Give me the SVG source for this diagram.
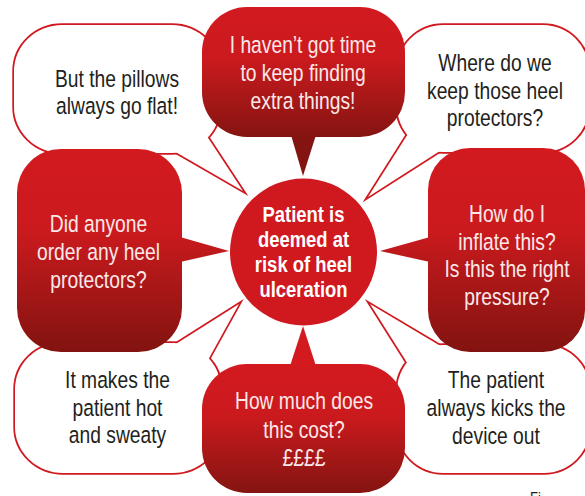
<svg xmlns="http://www.w3.org/2000/svg" width="585" height="496" viewBox="0 0 585 496">
<defs>
<linearGradient id="gTop" gradientUnits="userSpaceOnUse" x1="0" y1="7" x2="0" y2="137"><stop offset="0" stop-color="#d21a1f"/><stop offset="0.4" stop-color="#cb1a1e"/><stop offset="1" stop-color="#841411"/></linearGradient>
<linearGradient id="gLeft" gradientUnits="userSpaceOnUse" x1="0" y1="149" x2="0" y2="352"><stop offset="0" stop-color="#d21a1f"/><stop offset="0.4" stop-color="#cb1a1e"/><stop offset="1" stop-color="#821310"/></linearGradient>
<linearGradient id="gRight" gradientUnits="userSpaceOnUse" x1="0" y1="148" x2="0" y2="352"><stop offset="0" stop-color="#d21a1f"/><stop offset="0.4" stop-color="#cb1a1e"/><stop offset="1" stop-color="#821310"/></linearGradient>
<linearGradient id="gBot" gradientUnits="userSpaceOnUse" x1="0" y1="364" x2="0" y2="493"><stop offset="0" stop-color="#d21a1f"/><stop offset="0.4" stop-color="#cb1a1e"/><stop offset="1" stop-color="#841411"/></linearGradient>
</defs>
<style>
.wb{fill:#fff;stroke:#d0181f;stroke-width:3.4;stroke-linejoin:miter;stroke-miterlimit:10}
.wl{fill:none;stroke:#d0181f;stroke-width:3.4;stroke-linejoin:miter;stroke-miterlimit:10}
.wf{fill:#fff}
.tw{font-family:"Liberation Sans",Arial,sans-serif;font-size:23.5px;fill:#231f20;text-anchor:middle}
.tr{font-family:"Liberation Sans",Arial,sans-serif;font-size:23.5px;fill:#fbe8e8;text-anchor:middle}
.tc{font-family:"Liberation Sans",Arial,sans-serif;font-size:22.5px;font-weight:bold;fill:#ffffff;text-anchor:middle}
</style>
<rect width="585" height="496" fill="#ffffff"/>
<g id="connectors"/>
<g id="n-pillows">
<rect class="wb" x="14" y="25" width="206" height="128" rx="48" ry="46"/>
<path class="wl" d="M160,143 L243,191 L195,118"/>
<rect class="wf" x="14" y="25" width="206" height="128" rx="48" ry="46"/>
<polygon class="wf" points="160,143 243,191 195,118"/>
<g transform="translate(117 0) scale(0.82 1)">
<text class="tw" x="0" y="87">But the pillows</text>
<text class="tw" x="0" y="114">always go flat!</text>
</g>
</g>
<g id="n-where">
<rect class="wb" x="397" y="25" width="192" height="127" rx="46" ry="46"/>
<path class="wl" d="M454,142 L368,197 L418,118"/>
<rect class="wf" x="397" y="25" width="192" height="127" rx="46" ry="46"/>
<polygon class="wf" points="454,142 368,197 418,118"/>
<g transform="translate(495 0) scale(0.82 1)">
<text class="tw" x="0" y="71.5">Where do we</text>
<text class="tw" x="0" y="99">keep those heel</text>
<text class="tw" x="0" y="126.5">protectors?</text>
</g>
</g>
<g id="n-hot">
<rect class="wb" x="15" y="343" width="206" height="130" rx="48" ry="46"/>
<path class="wl" d="M160,354 L239,304 L197,380"/>
<rect class="wf" x="15" y="343" width="206" height="130" rx="48" ry="46"/>
<polygon class="wf" points="160,354 239,304 197,380"/>
<g transform="translate(117.5 0) scale(0.82 1)">
<text class="tw" x="0" y="388">It makes the</text>
<text class="tw" x="0" y="416">patient hot</text>
<text class="tw" x="0" y="443">and sweaty</text>
</g>
</g>
<g id="n-kicks">
<rect class="wb" x="397" y="345" width="193" height="128" rx="46" ry="46"/>
<path class="wl" d="M454,354 L370,304 L418,380"/>
<rect class="wf" x="397" y="345" width="193" height="128" rx="46" ry="46"/>
<polygon class="wf" points="454,354 370,304 418,380"/>
<g transform="translate(496 0) scale(0.82 1)">
<text class="tw" x="0" y="388">The patient</text>
<text class="tw" x="0" y="416">always kicks the</text>
<text class="tw" x="0" y="444">device out</text>
</g>
</g>
<g id="n-time">
<rect x="202" y="7" width="203" height="130" rx="45" ry="45" fill="url(#gTop)"/>
<polygon points="291,135 316,135 303,176" fill="url(#gTop)"/>
<g transform="translate(303 0) scale(0.82 1)">
<text class="tr" x="0" y="53">I haven’t got time</text>
<text class="tr" x="0" y="81">to keep finding</text>
<text class="tr" x="0" y="109">extra things!</text>
</g>
</g>
<g id="n-order">
<rect x="17" y="149" width="165" height="203" rx="44" ry="44" fill="url(#gLeft)"/>
<polygon points="180,237 229,251 180,262" fill="url(#gLeft)"/>
<g transform="translate(98.5 0) scale(0.82 1)">
<text class="tr" x="0" y="232">Did anyone</text>
<text class="tr" x="0" y="260">order any heel</text>
<text class="tr" x="0" y="288">protectors?</text>
</g>
</g>
<g id="n-inflate">
<rect x="428" y="148" width="157" height="204" rx="42" ry="42" fill="url(#gRight)"/>
<polygon points="430,237 380,251 430,262" fill="url(#gRight)"/>
<g transform="translate(507 0) scale(0.82 1)">
<text class="tr" x="0" y="222">How do I</text>
<text class="tr" x="0" y="250">inflate this?</text>
<text class="tr" x="0" y="277.5">Is this the right</text>
<text class="tr" x="0" y="305">pressure?</text>
</g>
</g>
<g id="n-cost">
<rect x="202" y="364" width="203" height="129" rx="45" ry="45" fill="url(#gBot)"/>
<polygon points="290,366 303,326 316,366" fill="url(#gBot)"/>
<g transform="translate(304 0) scale(0.82 1)">
<text class="tr" x="0" y="409">How much does</text>
<text class="tr" x="0" y="438">this cost?</text>
<text class="tr" x="0" y="466">££££</text>
</g>
</g>
<g id="n-centre">
<circle cx="303.5" cy="252" r="73.5" fill="#cf191f"/>
<g transform="translate(303.5 0) scale(0.82 1)">
<text class="tc" x="0" y="222">Patient is</text>
<text class="tc" x="0" y="247">deemed at</text>
<text class="tc" x="0" y="272">risk of heel</text>
<text class="tc" x="0" y="297">ulceration</text>
</g>
</g>
<g transform="translate(530 0) scale(0.82 1)">
<text x="0" y="504" font-family="Liberation Sans, sans-serif" font-size="16" fill="#231f20">Fi</text>
</g>
</svg>
